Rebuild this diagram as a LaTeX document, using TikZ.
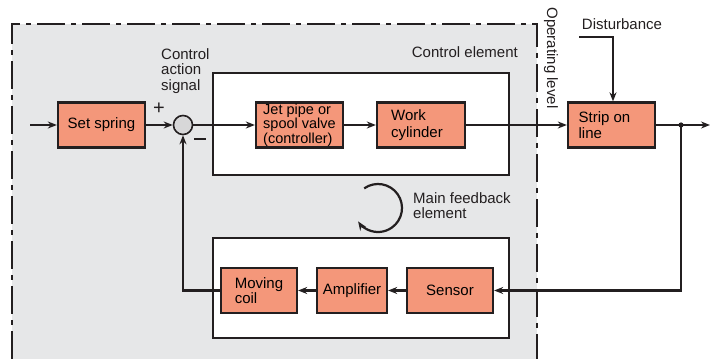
\documentclass[tikz,border=0pt]{standalone}
\usepackage{fontspec}
\setmainfont{Liberation Sans}
\usetikzlibrary{arrows.meta}
\definecolor{bg}{HTML}{E6E7E8}
\definecolor{salmon}{HTML}{F4977A}
\definecolor{ink}{HTML}{231F20}
\tikzset{
  blk/.style={draw=ink, line width=2.3pt, fill=salmon, minimum height=45pt, inner sep=1pt, font=\fontsize{15}{15.5}\selectfont, align=left},
  grp/.style={draw=ink, line width=2.3pt, fill=white},
  wire/.style={draw=ink, line width=2.2pt},
  arr/.style={wire, -{Stealth[length=9pt,width=7pt]}},
  lbl/.style={text=ink, font=\fontsize{15}{15.5}\selectfont, align=left, inner sep=0pt},
  border/.style={draw=ink, line width=2.5pt, dash pattern=on 28pt off 6pt on 5pt off 6pt},
}
\begin{document}
\begin{tikzpicture}[x=1pt,y=1pt]
\useasboundingbox (0,0) rectangle (710,359);
% operating region
\fill[bg] (12,0) rectangle (537,335);
\draw[border] (12,0) -- (12,335) -- (537,335) -- (537,0);
\node[lbl, rotate=-90] (oplevel) at (551,301) {Operating level};
% group boxes
\draw[grp] (213,184) rectangle (509,286);
\draw[grp] (213,21) rectangle (509,121);
\node[lbl, anchor=east] (ctrlel) at (518,307) {Control element};
% blocks
\node[blk, minimum width=87pt] (set) at (101.5,234) {Set spring};
\node[draw=ink, line width=1.6pt, fill=bg!85!gray, circle, minimum size=19pt, inner sep=0pt] (sum) at (183,234) {};
\node[blk, minimum width=87pt, font=\fontsize{14.5}{13}\selectfont] (jet) at (299.5,234) {Jet pipe or\\spool valve\\(controller)};
\node[blk, minimum width=88pt, font=\fontsize{15}{16.5}\selectfont] (work) at (421,234) {Work\\cylinder\hspace*{8pt}};
\node[blk, minimum width=87pt] (strip) at (611.5,234) {Strip on\hspace*{14pt}\\line};
\node[blk, minimum width=86pt] (sensor) at (450,68.5) {Sensor};
\node[blk, minimum width=70pt] (amp) at (352,68.5) {Amplifier};
\node[blk, minimum width=76pt] (coil) at (259,68.5) {Moving\\coil};
% labels
\node[lbl, anchor=north west] (cas) at (161,311) {Control\\action\\signal};
\node[lbl, font=\fontsize{20}{20}\selectfont] (plus) at (159,250) {+};
\draw[ink, line width=1.8pt] (194,220) -- (206,220);
\node[lbl, anchor=north west] (mfe) at (413,167) {Main feedback\\element};
\node[lbl] (dist) at (622,335) {Disturbance};
% connectors
\coordinate (in) at (30,234);
\coordinate (out) at (710,234);
\coordinate (tap) at (681,234);
\coordinate (dstart) at (579,322);
\draw[arr] (in) -- (set.west);
\draw[arr] (set.east) -- (sum.west);
\draw[arr] (sum.east) -- (jet.west);
\draw[arr] (jet.east) -- (work.west);
\draw[arr] (work.east) -- (strip.west);
\draw[arr] (strip.east) -- (out);
\fill[ink] (tap) circle (2.6pt);
\draw[arr] (tap) |- (sensor.east);
\draw[arr] (sensor.west) -- (amp.east);
\draw[arr] (amp.west) -- (coil.east);
\draw[arr] (coil.west) -| (sum.south);
\draw[arr] (dstart) -| ([xshift=1.5pt]strip.north);
% feedback loop symbol
\draw[wire, -{Stealth[length=9pt,width=7pt]}] (378,151) ++(125:24) arc (125:-146:24);
\end{tikzpicture}
\end{document}
